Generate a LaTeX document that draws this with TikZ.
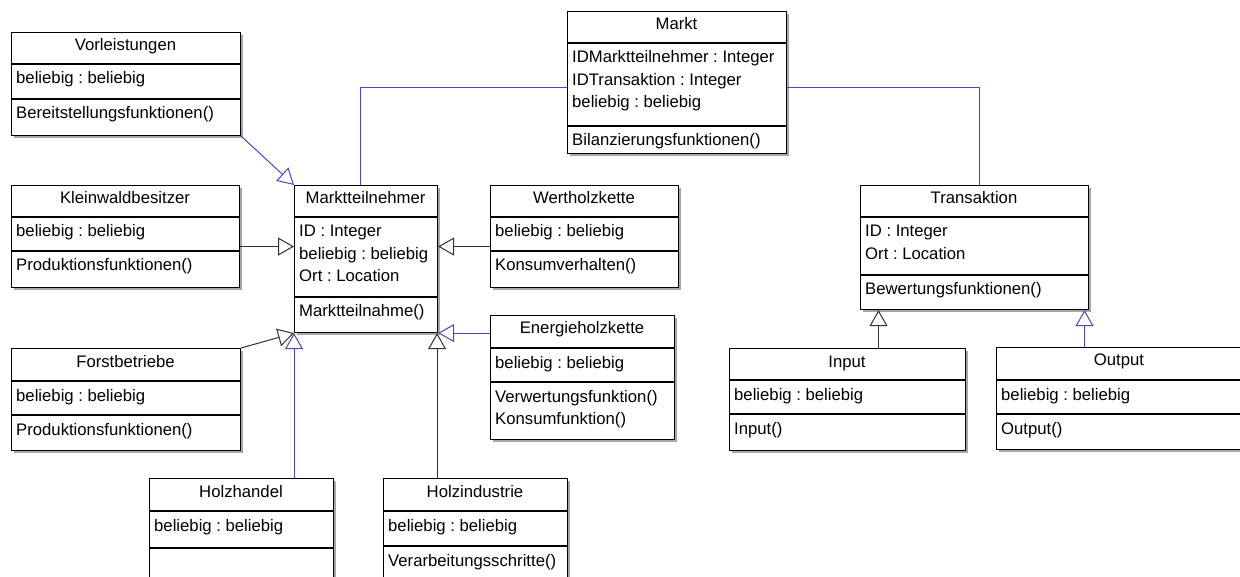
\documentclass[tikz,border=0pt]{standalone}
\usepackage{fontspec}
\setmainfont{Liberation Sans}
\usetikzlibrary{arrows.meta,shadows,calc}
\definecolor{umlblue}{RGB}{72,72,196}
\definecolor{umlgray}{RGB}{50,50,50}
\frenchspacing
\tikzset{
  classbox/.style={draw=black, line width=1.1pt, fill=white, inner sep=0pt,
    drop shadow={shadow xshift=2pt, shadow yshift=-2pt, fill=black!35, opacity=1}},
  sepline/.style={draw=black, line width=1.1pt},
  ttext/.style={font=\fontsize{16.7}{20}\selectfont, anchor=base, inner sep=0pt},
  mtext/.style={font=\fontsize{16.7}{20}\selectfont, anchor=base west, inner sep=0pt},
  genblack/.style={draw=umlgray, line width=1pt, -{Triangle[length=16pt,width=18pt,fill=white]}},
  genblue/.style={draw=umlblue, line width=1pt, -{Triangle[length=16pt,width=18pt,fill=white]}},
  assoc/.style={draw=umlblue, line width=1pt},
}
\newcommand{\classbox}[8]{%
  \node[classbox, minimum width={(#4-#2)*1pt}, minimum height={(#5-#3)*1pt}, anchor=north west] (#1) at (#2,#3) {};
  \draw[sepline] (#2,#6) -- (#4,#6);
  \draw[sepline] (#2,#7) -- (#4,#7);
  \node[ttext] (#1-title) at ({(#2+#4)/2},{#3+19}) {#8};
}
\newcommand{\members}[4]{%
  \foreach \t [count=\i] in {#4} {\node[mtext] (#1-\i) at ({#2+5},{#3+20+(\i-1)*22.5}) {\t};}%
}
\begin{document}
\begin{tikzpicture}[x=1pt,y=-1pt]
\useasboundingbox (0,0) rectangle (1240,577);
\clip (0,0) rectangle (1240,577);
\fill[white] (0,0) rectangle (1240,577);

% classes
\classbox{vor}{11}{32}{240}{135}{64}{99}{Vorleistungen}
\members{vor-a}{11}{64}{beliebig : beliebig}
\members{vor-m}{11}{99}{Bereitstellungsfunktionen()}

\classbox{klein}{11}{185}{239}{287}{217}{251}{Kleinwaldbesitzer}
\members{klein-a}{11}{217}{beliebig : beliebig}
\members{klein-m}{11}{251}{Produktionsfunktionen()}

\classbox{forst}{11}{348}{240}{450}{381}{415}{Forstbetriebe}
\members{forst-a}{11}{381}{beliebig : beliebig}
\members{forst-m}{11}{415}{Produktionsfunktionen()}

\classbox{mt}{294}{185}{437}{332}{217}{297}{Marktteilnehmer}
\members{mt-a}{294}{217}{ID : Integer, beliebig : beliebig, Ort : Location}
\members{mt-m}{294}{297}{Marktteilnahme()}

\classbox{wert}{490}{185}{678}{287}{217}{251}{Wertholzkette}
\members{wert-a}{490}{217}{beliebig : beliebig}
\members{wert-m}{490}{251}{Konsumverhalten()}

\classbox{eh}{490}{315}{674}{439}{348}{382}{Energieholzkette}
\members{eh-a}{490}{348}{beliebig : beliebig}
\members{eh-m}{490}{382}{Verwertungsfunktion(), Konsumfunktion()}

\classbox{hh}{149}{478}{333}{600}{511}{548}{Holzhandel}
\members{hh-a}{149}{511}{beliebig : beliebig}

\classbox{hi}{383}{478}{567}{600}{511}{546}{Holzindustrie}
\members{hi-a}{383}{511}{beliebig : beliebig}
\members{hi-m}{383}{546}{Verarbeitungsschritte()}

\classbox{markt}{567}{11}{786}{153}{43}{126}{Markt}
\members{markt-a}{567}{43}{IDMarktteilnehmer : Integer, IDTransaktion : Integer, beliebig : beliebig}
\members{markt-m}{567}{126}{Bilanzierungsfunktionen()}

\classbox{tr}{860}{185}{1088}{309}{217}{275}{Transaktion}
\members{tr-a}{860}{217}{ID : Integer, Ort : Location}
\members{tr-m}{860}{275}{Bewertungsfunktionen()}

\classbox{inp}{729}{348}{965}{450}{380}{414}{Input}
\members{inp-a}{729}{380}{beliebig : beliebig}
\members{inp-m}{729}{414}{Input()}

\classbox{outp}{996}{347}{1242}{449}{380}{414}{Output}
\members{outp-a}{996}{380}{beliebig : beliebig}
\members{outp-m}{996}{414}{Output()}

% connectors
\draw[genblue] (vor.south east) -- (mt.north west);
\draw[genblack] ([yshift=-10pt]klein.east) -- ([yshift=-10pt]klein.east -| mt.west);
\draw[genblack] ([yshift=-10pt]wert.west) -- ([yshift=-10pt]wert.west -| mt.east);
\draw[genblack] (forst.north east) -- (mt.south west);
\draw[genblue] (hh.north -| mt.south west) -- (mt.south west);
\draw[genblack] ([xshift=-1pt]hi.north -| mt.south east) -- ([xshift=-1pt]mt.south east);
\draw[genblue] (mt.south east -| eh.west) -- (mt.south east);
\draw[assoc] ([yshift=-5pt]markt.west) -| ([xshift=-6pt]mt.north);
\draw[assoc] ([yshift=-5pt]markt.east) -| ([xshift=5pt]tr.north);
\draw[genblack] ([xshift=31pt]inp.north) -- ([xshift=31pt]inp.north |- tr.south);
\draw[genblue] ([xshift=-35pt]outp.north) -- ([xshift=-35pt]outp.north |- tr.south);
\end{tikzpicture}
\end{document}
